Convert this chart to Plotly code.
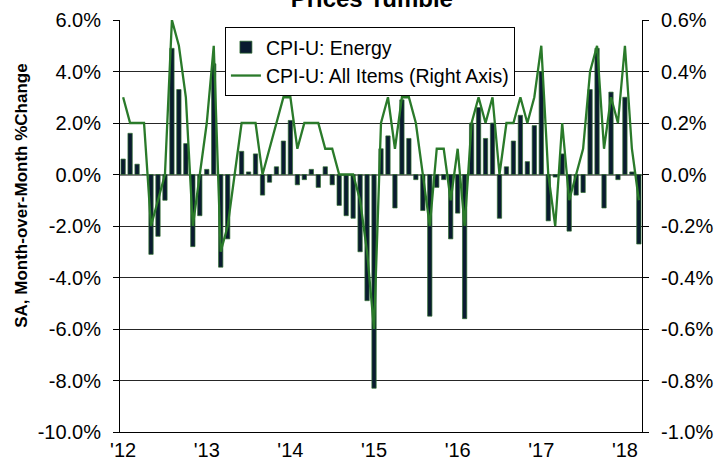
import plotly.graph_objects as go
import pandas as pd

# Monthly categories Jan 2012 .. Mar 2018
months = [d.strftime("%b %Y") for d in pd.date_range("2012-01-01", "2018-03-01", freq="MS")]

# CPI-U: Energy, SA month-over-month % change (left axis)
energy = [
    0.6, 1.6, 0.4, 0.0, -3.1, -2.4, -1.0, 4.9, 3.3, 1.2, -2.8, -1.6,   # 2012
    0.2, 4.3, -3.6, -2.5, 0.0, 0.9, 0.1, 0.8, -0.8, -0.3, 0.3, 1.3,    # 2013
    2.1, -0.4, -0.2, 0.2, -0.5, 0.3, -0.4, -1.2, -1.6, -1.7, -3.0, -4.9,  # 2014
    -8.3, 1.0, 1.5, -1.3, 2.9, 1.4, -0.2, -1.4, -5.5, -0.5, -0.2, -2.5,   # 2015
    -1.5, -5.6, 2.0, 2.6, 1.4, 2.0, -1.7, 0.3, 1.3, 2.3, 0.5, 1.9,        # 2016
    4.0, -1.8, -0.1, 0.8, -2.2, -0.8, -0.7, 3.3, 4.9, -1.3, 3.2, -0.2,    # 2017
    3.0, 0.1, -2.7,                                                      # 2018
]

# CPI-U: All Items, SA month-over-month % change (right axis)
all_items = [
    0.3, 0.2, 0.2, 0.2, -0.2, -0.1, 0.0, 0.6, 0.5, 0.3, -0.2, 0.0,
    0.2, 0.5, -0.3, -0.2, 0.0, 0.2, 0.2, 0.2, 0.0, 0.1, 0.2, 0.3,
    0.3, 0.1, 0.2, 0.2, 0.2, 0.1, 0.1, 0.0, 0.0, 0.0, -0.1, -0.3,
    -0.6, 0.2, 0.3, 0.1, 0.3, 0.3, 0.2, 0.0, -0.2, 0.1, 0.1, -0.1,
    0.1, -0.2, 0.2, 0.3, 0.2, 0.3, 0.0, 0.2, 0.2, 0.3, 0.2, 0.3,
    0.5, 0.0, -0.2, 0.2, -0.1, 0.0, 0.1, 0.4, 0.5, 0.1, 0.3, 0.2,
    0.5, 0.1, -0.1,
]

# Axis ticks
x_tick_vals = ["Jan 2012", "Jan 2013", "Jan 2014", "Jan 2015", "Jan 2016", "Jan 2017", "Jan 2018"]
x_tick_text = ["'12", "'13", "'14", "'15", "'16", "'17", "'18"]
left_tick_vals = [-10, -8, -6, -4, -2, 0, 2, 4, 6]
left_tick_text = ["-10.0%", "-8.0%", "-6.0%", "-4.0%", "-2.0%", "0.0%", "2.0%", "4.0%", "6.0%"]
right_tick_vals = [-1.0, -0.8, -0.6, -0.4, -0.2, 0.0, 0.2, 0.4, 0.6]
right_tick_text = ["-1.0%", "-0.8%", "-0.6%", "-0.4%", "-0.2%", "0.0%", "0.2%", "0.4%", "0.6%"]

FONT = "Liberation Sans, Arial, sans-serif"

fig = go.Figure()
fig.add_trace(go.Bar(
    x=months, y=energy, name="CPI-U: Energy",
    marker=dict(color="#0a1b30", line=dict(color="#2f6f2f", width=0.7)),
    yaxis="y",
))
fig.add_trace(go.Scatter(
    x=months, y=all_items, name="CPI-U: All Items (Right Axis)",
    mode="lines", line=dict(color="#2a7a2a", width=2.3),
    yaxis="y2",
))

fig.update_layout(
    width=715, height=465,
    margin=dict(l=120, r=73, t=20, b=33, pad=0),
    paper_bgcolor="white", plot_bgcolor="white",
    font=dict(family=FONT, size=20, color="black"),
    bargap=0.38,
    showlegend=True,
    title=dict(text="<b>Prices Tumble</b>", font=dict(size=24, family=FONT, color="black"),
               x=0.52, xanchor="center", xref="container",
               y=0.984, yanchor="bottom", yref="container", automargin=False),
    legend=dict(x=0.201, y=0.983, xanchor="left", yanchor="top",
                bgcolor="white", bordercolor="black", borderwidth=1,
                font=dict(size=19.5, family=FONT)),
    xaxis=dict(type="category", range=[-0.45, 74.45], automargin=False,
               tickvals=x_tick_vals, ticktext=x_tick_text,
               showline=True, linecolor="black", linewidth=1,
               ticks="", showgrid=False, tickfont=dict(size=20)),
    yaxis=dict(range=[-10, 6], tickvals=left_tick_vals, ticktext=left_tick_text,
               automargin=False,
               showline=True, linecolor="black", linewidth=1,
               ticks="outside", ticklen=6, tickcolor="black",
               showgrid=True, gridcolor="#262626", gridwidth=1,
               zeroline=True, zerolinecolor="#808080", zerolinewidth=1.5,
               ticklabelstandoff=8, tickfont=dict(size=20)),
    yaxis2=dict(range=[-1.0, 0.6], overlaying="y", side="right",
                tickvals=right_tick_vals, ticktext=right_tick_text,
                automargin=False,
                showline=True, linecolor="black", linewidth=1,
                ticks="outside", ticklen=6, tickcolor="black",
                showgrid=False, zeroline=False,
                ticklabelstandoff=8, tickfont=dict(size=20)),
    annotations=[dict(text="<b>SA, Month-over-Month %Change</b>", textangle=-90,
                      x=-0.188, y=0.573, xref="paper", yref="paper",
                      xanchor="center", yanchor="middle", showarrow=False,
                      font=dict(size=17, family=FONT, color="black"))],
)

fig.write_html("out.html",
               config={"displayModeBar": False},
               post_script="document.body.style.margin='0';document.body.style.overflow='hidden';")
